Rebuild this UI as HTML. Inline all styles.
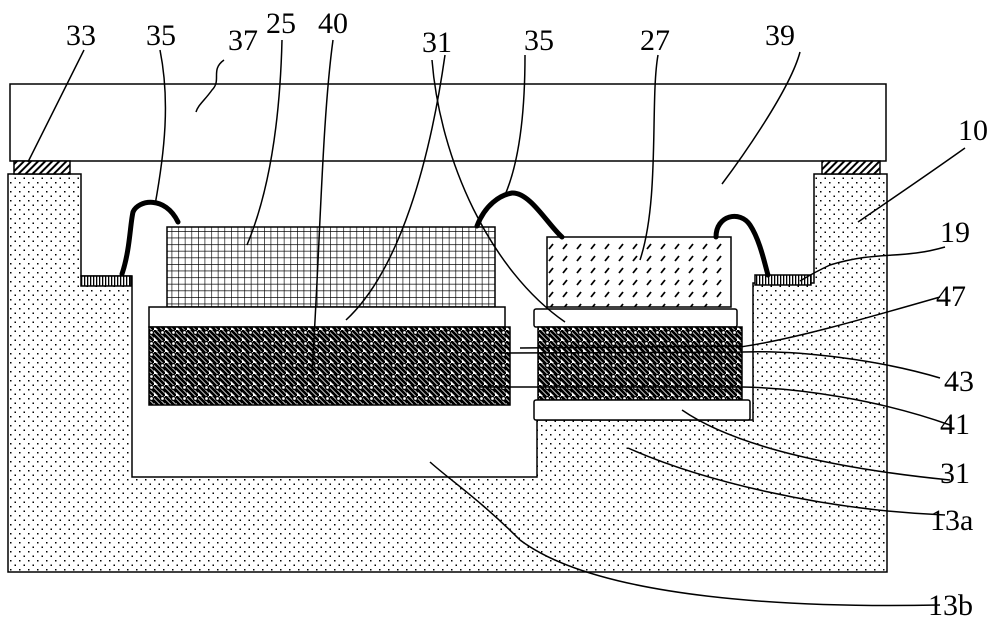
<!DOCTYPE html>
<html><head><meta charset="utf-8"><style>html,body{margin:0;padding:0;background:#fff}svg{display:block}text{font-family:"Liberation Serif",serif;font-size:30px;fill:#000}</style></head><body>
<svg width="1000" height="632" viewBox="0 0 1000 632" xmlns="http://www.w3.org/2000/svg">
<defs>
<pattern id="dots" width="9" height="9" patternUnits="userSpaceOnUse"><rect width="9" height="9" fill="#fff"/><rect x="1" y="2" width="1.5" height="1.5" fill="#000"/><rect x="5.5" y="6.5" width="1.5" height="1.5" fill="#000"/></pattern>
<pattern id="grid" width="6.6" height="6.6" patternUnits="userSpaceOnUse"><rect width="6.6" height="6.6" fill="#fff"/><path d="M0 0H6.6M0 0V6.6" stroke="#000" stroke-width="1.3"/></pattern>
<pattern id="slash" width="14" height="12" patternUnits="userSpaceOnUse"><rect width="14" height="12" fill="#fff"/><path d="M3 9L7 4" stroke="#000" stroke-width="1.8"/></pattern>
<pattern id="dark" width="11" height="11" patternUnits="userSpaceOnUse"><rect width="11" height="11" fill="#fff"/><path d="M-2 -2L13 13M-2 3L8 13M3 -2L13 8" stroke="#000" stroke-width="2.8"/><circle cx="8.5" cy="2.5" r="2" fill="#fff" stroke="#000" stroke-width="1.3"/></pattern>
<pattern id="vs" width="3" height="10" patternUnits="userSpaceOnUse"><rect width="3" height="10" fill="#fff"/><rect width="1.3" height="10" fill="#000"/></pattern>
<pattern id="dg" width="5" height="5" patternUnits="userSpaceOnUse" patternTransform="rotate(45)"><rect width="5" height="5" fill="#fff"/><rect width="2" height="5" fill="#000"/></pattern>
</defs>
<g stroke="#000" stroke-width="1.5">
<path d="M8 174H81V276H132V477H537V420H753V283H814V174H887V572H8Z" fill="url(#dots)"/>
<rect x="10" y="84" width="876" height="77" fill="#fff"/>
<rect x="14" y="161" width="56" height="13" fill="url(#dg)"/>
<rect x="822" y="161" width="58" height="13" fill="url(#dg)"/>
<rect x="81" y="276" width="50" height="10" fill="url(#vs)"/>
<rect x="755" y="275" width="56" height="10" fill="url(#vs)"/>
<rect x="167" y="227" width="328" height="80" fill="url(#grid)"/>
<rect x="149" y="307" width="356" height="20" fill="#fff"/>
<rect x="149" y="327" width="361" height="78" fill="url(#dark)"/>
<rect x="547" y="237" width="184" height="70" fill="url(#slash)"/>
<rect x="534" y="309" width="203" height="18" rx="2" fill="#fff"/>
<rect x="538" y="327" width="204" height="73" fill="url(#dark)"/>
<rect x="534" y="400" width="216" height="20" rx="2" fill="#fff"/>
</g>
<g fill="none" stroke="#000" stroke-width="5" stroke-linecap="round">
<path d="M122 274C130 250 130 225 133 212C138 200 165 195 178 222"/>
<path d="M477 226C485 205 500 195 512 193C530 192 548 225 562 237"/>
<path d="M716 237C716 215 740 210 750 225C760 240 765 265 768 275"/>
</g>
<g fill="none" stroke="#000" stroke-width="1.5">
<path d="M84 50L28 162"/>
<path d="M160 50C170 100 165 150 155 205"/>
<path d="M224 60C210 70 222 80 212 90C205 100 198 105 196 112"/>
<path d="M282 40C280 120 270 190 247 245"/>
<path d="M333 40C322 120 320 250 312 372"/>
<path d="M445 55C430 160 400 270 346 320"/>
<path d="M432 60C440 160 490 270 565 322"/>
<path d="M525 55C525 110 520 160 505 195"/>
<path d="M658 55C650 100 660 200 640 260"/>
<path d="M800 52C790 90 740 160 722 184"/>
<path d="M965 148C920 180 890 200 858 222"/>
<path d="M945 247C900 260 880 250 830 265C815 272 805 278 800 281"/>
<path d="M940 297C860 320 790 340 740 347L740 346L520 348"/>
<path d="M940 378C880 360 800 350 743 352L500 353"/>
<path d="M950 425C880 400 800 388 742 387L480 387"/>
<path d="M950 480C850 470 740 450 682 410"/>
<path d="M945 515C820 510 700 480 628 448"/>
<path d="M940 605C800 608 600 600 520 540C480 500 450 480 430 462"/>
</g>
<text x="66" y="45">33</text><text x="146" y="45">35</text><text x="228" y="50">37</text>
<text x="266" y="33">25</text><text x="318" y="33">40</text><text x="422" y="52">31</text>
<text x="524" y="50">35</text><text x="640" y="50">27</text><text x="765" y="45">39</text>
<text x="958" y="140">10</text><text x="940" y="242">19</text><text x="936" y="306">47</text>
<text x="944" y="391">43</text><text x="940" y="434">41</text><text x="940" y="483">31</text>
<text x="930" y="530">13a</text><text x="928" y="615">13b</text>
</svg>
</body></html>
